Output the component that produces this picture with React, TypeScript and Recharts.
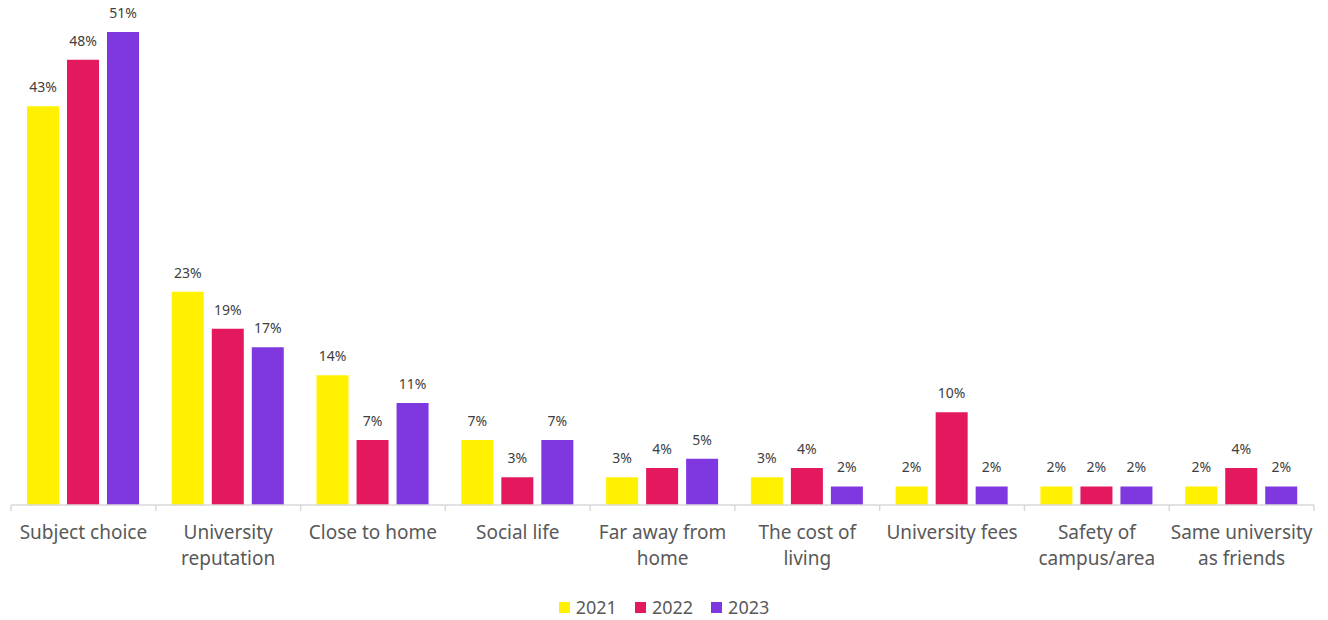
import React from "react";
import { BarChart, Bar, XAxis, YAxis, LabelList } from "recharts";

const categories = [
  "Subject choice",
  "University reputation",
  "Close to home",
  "Social life",
  "Far away from home",
  "The cost of living",
  "University fees",
  "Safety of campus/area",
  "Same university as friends",
];
const labelLines: string[][] = [
  ["Subject choice"],
  ["University", "reputation"],
  ["Close to home"],
  ["Social life"],
  ["Far away from", "home"],
  ["The cost of", "living"],
  ["University fees"],
  ["Safety of", "campus/area"],
  ["Same university", "as friends"],
];
const values2021 = [43, 23, 14, 7, 3, 3, 2, 2, 2];
const values2022 = [48, 19, 7, 3, 4, 4, 10, 2, 4];
const values2023 = [51, 17, 11, 7, 5, 2, 2, 2, 2];
const seriesNames = ["2021", "2022", "2023"];
const colors = ["#FFF100", "#E4185F", "#7F38E0"];

const data = categories.map((c, i) => ({
  name: c,
  idx: i,
  y2021: values2021[i],
  y2022: values2022[i],
  y2023: values2023[i],
}));

const W = 1328;
const H = 620;
const margin = { top: 32, right: 14, bottom: 0, left: 11 };
const plotW = W - margin.left - margin.right;
const band = plotW / categories.length;
const FONT = "'Noto Sans', 'Open Sans', sans-serif";

const CatTick = (props: any) => {
  const { x, y, payload, index } = props;
  const lines = labelLines[index] || [String(payload.value)];
  const axisY = y - 8;
  return (
    <g>
      <line x1={x - band / 2} x2={x - band / 2} y1={axisY} y2={axisY + 6} stroke="#d9d9d9" strokeWidth={1.5} />
      {index === categories.length - 1 && (
        <line x1={x + band / 2} x2={x + band / 2} y1={axisY} y2={axisY + 6} stroke="#d9d9d9" strokeWidth={1.5} />
      )}
      {lines.map((l, k) => (
        <text
          key={k}
          x={x}
          y={axisY + 34 + k * 26}
          textAnchor="middle"
          fill="#595959"
          fontSize={19}
          fontFamily={FONT}
        >
          {l}
        </text>
      ))}
    </g>
  );
};

const fmt = (v: any) => `${v}%`;

export default function App() {
  return (
    <div style={{ position: "absolute", left: 0, top: 0, width: W, height: H, background: "#fff", overflow: "hidden" }}>
      <BarChart width={W} height={H} data={data} margin={margin} barSize={32} barGap={8}>
        <XAxis
          dataKey="name"
          interval={0}
          axisLine={{ stroke: "#d9d9d9", strokeWidth: 1.5 }}
          tickLine={false}
          tick={<CatTick />}
          height={115}
        />
        <YAxis hide domain={[0, 51]} />
        {["y2021", "y2022", "y2023"].map((k, i) => (
          <Bar key={k} dataKey={k} name={seriesNames[i]} fill={colors[i]} isAnimationActive={false}>
            <LabelList
              dataKey={k}
              position="top"
              offset={14}
              formatter={fmt}
              fill="#404040"
              fontSize={14}
              fontFamily={FONT}
            />
          </Bar>
        ))}
      </BarChart>
      <div
        style={{
          position: "absolute",
          top: 597,
          left: 0,
          width: W,
          height: 20,
          display: "flex",
          justifyContent: "center",
          fontFamily: FONT,
          fontSize: 18,
          color: "#595959",
          lineHeight: "20px",
        }}
      >
        {seriesNames.map((s, i) => (
          <div key={s} style={{ display: "flex", alignItems: "center", margin: "0 9px" }}>
            <span style={{ width: 11, height: 11, background: colors[i], display: "inline-block", marginRight: 6 }} />
            <span>{s}</span>
          </div>
        ))}
      </div>
    </div>
  );
}
